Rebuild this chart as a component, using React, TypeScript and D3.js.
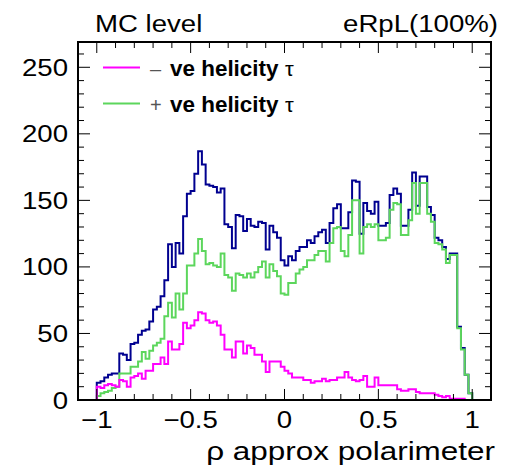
import React from 'react';
import * as d3 from 'd3';

// histogram bins: 100 bins from -1 to 1 (width 0.02); axis spans -1.1 .. 1.1
const binLow = -1.0;
const binWidth = 0.02;

const negHelicity = [
  10, 9, 11, 12, 11, 10, 15, 14, 10, 17,
  18, 20, 16, 22, 22, 27, 27, 32, 27, 44,
  38, 38, 42, 58, 54, 56, 60, 66, 65, 60,
  58, 59, 56, 49, 38, 38, 32, 44, 44, 35,
  41, 39, 34, 34, 29, 21, 29, 29, 29, 25,
  22, 20, 17, 17, 17, 15, 15, 13, 14, 14,
  16, 14, 15, 15, 17, 17, 21, 17, 15, 14,
  15, 18, 10, 10, 17, 11, 11, 11, 11, 11,
  8, 7, 7, 8, 8, 6, 5, 5, 5, 5,
  4, 3, 2, 3, 1, 1, 1, 1, 0, 0,
];

const posHelicity = [
  3, 5, 6, 7, 9, 10, 20, 20, 20, 25,
  25, 29, 36, 31, 37, 41, 43, 46, 63, 73,
  62, 80, 68, 80, 101, 101, 110, 121, 112, 102,
  103, 101, 100, 110, 94, 92, 82, 95, 94, 92,
  95, 92, 96, 100, 104, 92, 102, 97, 93, 80,
  79, 88, 88, 95, 98, 100, 105, 105, 109, 112,
  112, 104, 118, 129, 130, 112, 108, 124, 150, 150,
  110, 130, 132, 130, 132, 120, 120, 122, 143, 148,
  147, 124, 124, 135, 163, 140, 163, 163, 140, 134,
  118, 117, 113, 103, 109, 109, 54, 38, 19, 5,
];

const allHelicity = [
  13, 14, 17, 19, 20, 20, 35, 34, 30, 42,
  43, 49, 52, 53, 59, 68, 70, 78, 90, 117,
  100, 118, 110, 138, 155, 157, 170, 187, 177, 162,
  161, 160, 156, 159, 132, 130, 114, 139, 138, 127,
  136, 131, 130, 134, 133, 113, 131, 126, 122, 105,
  101, 108, 105, 112, 115, 115, 120, 118, 123, 126,
  128, 118, 133, 144, 147, 129, 129, 141, 165, 164,
  125, 148, 142, 140, 149, 131, 131, 133, 154, 159,
  155, 131, 131, 143, 171, 146, 168, 168, 145, 139,
  122, 120, 115, 106, 110, 110, 55, 39, 19, 5,
];

const xTicks = [-1, -0.5, 0, 0.5, 1];
const xTickLabels = ['\u22121', '\u22120.5', '0', '0.5', '1'];
const yTicks = [0, 50, 100, 150, 200, 250];
const yTickLabels = ['0', '50', '100', '150', '200', '250'];

const legendItems = [
  { sign: '\u2013', label: 've helicity', color: '#ff00ff' },
  { sign: '+', label: 've helicity', color: '#5cd65c' },
];

const FONT = "'Liberation Sans', Arial, Helvetica, sans-serif";
const SX = 1.15;

export default function App() {
  const W = 506, H = 470;
  const left = 78, right = 491, top = 42, bottom = 400;
  const x = d3.scaleLinear().domain([-1.1, 1.1]).range([left, right]);
  const y = d3.scaleLinear().domain([0, 269]).range([bottom, top]);

  const stepPath = (vals: number[]) => {
    const pts: [number, number][] = [[-1.1, 0]];
    vals.forEach((v, i) => pts.push([binLow + i * binWidth, v]));
    pts.push([binLow + vals.length * binWidth, 0]);
    pts.push([1.1, 0]);
    return d3.line<[number, number]>().x(d => x(d[0])).y(d => y(d[1])).curve(d3.curveStepAfter)(pts) || '';
  };

  const xMinor = d3.range(-11, 12).map(i => i / 10);
  const yMinor = d3.range(0, 270, 10);

  const T = (props: any) => {
    const { x: tx, y: ty, sx = SX, children, ...rest } = props;
    return (
      <text transform={`translate(${tx},${ty}) scale(${sx},1)`} fontFamily={FONT} {...rest}>{children}</text>
    );
  };

  return (
    <svg width={W} height={H} style={{ position: 'absolute', left: 0, top: 0, background: '#fff' }}>
      <rect x={0} y={0} width={W} height={H} fill="#fff" />
      <T x={95} y={32} fontSize={24}>MC level</T>
      <T x={498} y={32} fontSize={24} textAnchor="end">eRpL(100%)</T>

      <defs>
        <clipPath id="frame">
          <rect x={left} y={top} width={right - left} height={bottom - top} />
        </clipPath>
      </defs>

      <g clipPath="url(#frame)" fill="none" strokeWidth={2}>
        <path d={stepPath(allHelicity)} stroke="#000090" />
        <path d={stepPath(posHelicity)} stroke="#5cd65c" />
        <path d={stepPath(negHelicity)} stroke="#ff00ff" />
      </g>

      {/* ticks */}
      <g stroke="#000" strokeWidth={1}>
        {xMinor.map((v, i) => {
          const major = xTicks.some(t => Math.abs(t - v) < 1e-6);
          const len = major ? 11 : 6;
          return (
            <g key={'xt' + i}>
              <line x1={x(v)} x2={x(v)} y1={bottom} y2={bottom - len} />
              <line x1={x(v)} x2={x(v)} y1={top} y2={top + len} />
            </g>
          );
        })}
        {yMinor.map((v, i) => {
          const major = v % 50 === 0;
          const len = major ? 12 : 6;
          return (
            <g key={'yt' + i}>
              <line x1={left} x2={left + len} y1={y(v)} y2={y(v)} />
              <line x1={right} x2={right - len} y1={y(v)} y2={y(v)} />
            </g>
          );
        })}
      </g>

      <rect x={left} y={top} width={right - left} height={bottom - top} fill="none" stroke="#000" strokeWidth={2} />

      {xTicks.map((v, i) => (
        <T key={'xl' + i} x={x(v)} y={428} fontSize={24} textAnchor="middle">{xTickLabels[i]}</T>
      ))}
      {yTicks.map((v, i) => (
        <T key={'yl' + i} x={68} y={y(v) + 8.5} fontSize={24} textAnchor="end">{yTickLabels[i]}</T>
      ))}

      <T x={495} y={460} fontSize={26} sx={1.21} textAnchor="end">ρ approx polarimeter</T>

      {legendItems.map((it, i) => {
        const ly = 67.5 + i * 36;
        return (
          <g key={'lg' + i}>
            <line x1={103} x2={140} y1={ly} y2={ly} stroke={it.color} strokeWidth={2} />
            <T x={150} y={ly + 8.5} fontSize={20} sx={1} fill="#555">{it.sign}</T>
            <T x={170} y={ly + 8.5} fontSize={22} sx={1.02} fontWeight="bold">{it.label}</T>
            <T x={285} y={ly + 8.5} fontSize={21} sx={1.05}>τ</T>
          </g>
        );
      })}
    </svg>
  );
}
